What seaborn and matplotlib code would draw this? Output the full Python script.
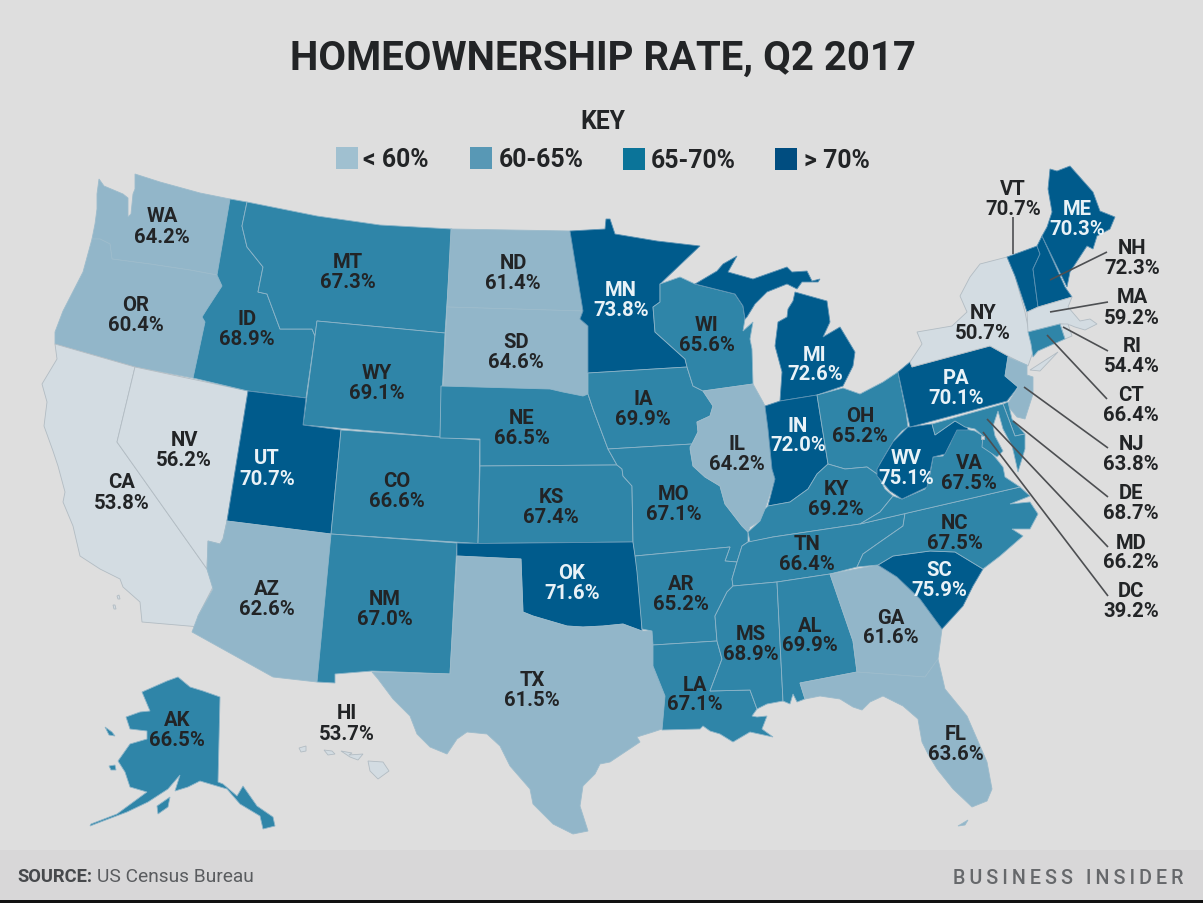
import numpy as np
import pandas as pd
import matplotlib
matplotlib.use("Agg")
import matplotlib.pyplot as plt
from matplotlib.patches import Polygon
import seaborn as sns

STATES = ["WA", "OR", "CA", "NV", "ID", "MT", "WY", "UT", "AZ", "CO", "NM", "ND", "SD", "NE", "KS", "OK",
          "TX", "MN", "IA", "MO", "AR", "LA", "WI", "IL", "MI", "IN", "OH", "KY", "TN", "MS", "AL", "GA",
          "FL", "SC", "NC", "VA", "WV", "PA", "NY", "VT", "NH", "ME", "MA", "RI", "CT", "NJ", "DE", "MD",
          "DC", "AK", "HI"]
RATES = [64.2, 60.4, 53.8, 56.2, 68.9, 67.3, 69.1, 70.7, 62.6, 66.6, 67.0, 61.4, 64.6, 66.5, 67.4, 71.6,
         61.5, 73.8, 69.9, 67.1, 65.2, 67.1, 65.6, 64.2, 72.6, 72.0, 65.2, 69.2, 66.4, 68.9, 69.9, 61.6,
         63.6, 75.9, 67.5, 67.5, 75.1, 70.1, 50.7, 70.7, 72.3, 70.3, 59.2, 54.4, 66.4, 63.8, 68.7, 66.2,
         39.2, 66.5, 53.7]
KEY_LABELS = ["< 60%", "60-65%", "65-70%", "> 70%"]
KEY_BINS = [0, 60, 65, 70, 100]

MAP_COLORS = ["#d3dce2", "#92b6c9", "#2f85a8", "#005b8c"]
EDGE_COLORS = ["#b2bcc3", "#9dbccc", "#8db5c9", "#5d93b4"]
KEY_COLORS = ["#a0c0d0", "#5898b5", "#0b7499", "#004d80"]
BG = "#dedede"
DARK = "#222426"

# outlines, in image pixels
SHAPES = {
    "WA": [[(99,180),(104,187),(123,195),(128,199),(128,218),(131,215),(133,195),(135,190),(135,175),(160,183),(200,194),(230,200),(217,276),(190,271),(150,265),(112,260),(110,245),(100,240),(92,240),(95,225),(97,210),(97,195)]],
    "OR": [[(92,240),(100,240),(110,245),(112,260),(150,265),(190,271),(217,276),(222,287),(207,310),(202,318),(205,323),(193,379),(135,368),(55,345),(55,333),(63,312),(83,273)]],
    "CA": [[(55,345),(135,368),(117,443),(207,570),(213,588),(198,617),(200,628),(142,623),(140,603),(123,588),(120,580),(100,570),(80,557),(73,527),(63,503),(65,493),(58,467),(53,452),(44,427),(47,403),(42,385),(57,360)],
           [(117,597),(119,596),(120,600),(118,600)],
           [(113,606),(115,606),(116,610),(114,610)]],
    "NV": [[(135,368),(248,392),(227,522),(223,540),(220,545),(208,542),(207,570),(117,443)]],
    "ID": [[(230,200),(247,203),(242,227),(247,248),(263,268),(258,293),(267,295),(280,330),(303,330),(312,330),(315,337),(306,399),(248,392),(193,379),(205,323),(202,318),(207,310),(222,287),(217,276)]],
    "MT": [[(247,203),(317,217),(380,226),(452,230),(445,334),(317,322),(315,337),(312,330),(280,330),(267,295),(258,293),(263,268),(247,248),(242,227)]],
    "WY": [[(317,322),(445,334),(440,438),(303,426)]],
    "UT": [[(248,392),(306,399),(303,426),(341,431),(331,535),(227,522)]],
    "AZ": [[(227,522),(331,535),(317,683),(273,678),(192,633),(198,617),(213,590),(207,570),(208,542),(220,545),(223,540)]],
    "CO": [[(341,431),(480,441),(478,544.5),(331,535)]],
    "NM": [[(331,535),(457,544),(450,675),(372,672),(335,675),(335,684),(317,683)]],
    "ND": [[(451,230),(570,232),(583,312),(447,308)]],
    "SD": [[(447,308),(583,312),(580,320),(588,327),(588,395),(583,397),(563,393),(550,390),(443,387)]],
    "NE": [[(441,387),(550,390),(563,393),(583,397),(588,395),(593,410),(608,450),(617,466),(480,467),(480,440),(440,439)]],
    "KS": [[(480,467),(617,466),(622,470),(623,477),(632,487),(633,543),(478,544.5)]],
    "OK": [[(457,544),(478,544.5),(633,543),(640,583),(642,632),(623,625),(603,627),(583,628),(567,627),(550,622),(533,617),(523,613),(521,560),(457,557)]],
    "TX": [[(457,557),(521,560),(523,613),(533,617),(550,622),(567,627),(583,628),(603,627),(623,625),(642,632),(652,632),(653,646),(657,673),(665,697),(662,730),(653,733),(637,738),(640,743),(610,763),(600,765),(595,775),(583,787),(580,807),(588,832),(573,835),(553,825),(533,805),(530,790),(510,767),(500,747),(487,735),(467,733),(457,740),(447,755),(430,748),(417,735),(410,717),(393,700),(378,680),(372,673),(450,675)]],
    "MN": [[(570,232),(605,230),(606,220),(610,220),(615,235),(633,238),(657,242),(700,247),(660,285),(660,303),(653,308),(655,333),(685,360),(687,368),(588,374),(588,327),(580,320),(583,312)]],
    "IA": [[(588,374),(687,368),(693,387),(703,392),(713,407),(710,417),(697,423),(698,433),(692,445),(608,450),(593,410),(588,395)]],
    "MO": [[(608,450),(692,445),(690,450),(693,467),(705,478),(720,487),(725,505),(742,527),(748,533),(748,543),(742,547),(737,563),(725,562),(730,548),(635,557),(633,543),(632,487),(623,477),(622,470),(617,466)]],
    "AR": [[(635,557),(730,548),(725,562),(737,563),(732,580),(733,587),(727,593),(715,617),(717,642),(653,646),(652,632),(642,630),(637,573)]],
    "LA": [[(653,646),(717,642),(722,660),(710,692),(750,691),(757,710),(752,717),(757,718),(767,717),(762,730),(773,738),(750,733),(733,743),(720,735),(710,732),(703,727),(700,730),(662,731),(665,697),(653,667)]],
    "WI": [[(660,285),(680,278),(695,285),(735,295),(743,307),(745,320),(743,332),(753,323),(750,340),(752,350),(753,385),(703,392),(693,387),(687,368),(685,360),(655,333),(653,308),(660,303)]],
    "IL": [[(703,392),(753,385),(763,403),(765,407),(768,430),(772,470),(775,480),(770,495),(765,510),(760,522),(750,528),(748,533),(742,527),(725,505),(720,487),(705,478),(693,467),(690,448),(692,445),(698,433),(697,423),(710,417),(713,407)]],
    "MI": [[(795,293),(827,302),(830,323),(823,338),(840,328),(855,353),(853,367),(843,387),(817,396),(780,402),(782,373),(775,347),(778,323),(787,318),(788,310),(793,302)],
           [(695,285),(717,272),(723,265),(737,257),(728,273),(753,280),(787,268),(792,273),(807,272),(812,282),(820,280),(818,283),(802,283),(797,290),(787,285),(767,293),(755,305),(747,318),(745,320),(743,307),(735,295)]],
    "IN": [[(780,402),(817,396),(828,465),(817,475),(808,490),(790,503),(768,507),(775,480),(772,470),(768,430),(765,407)]],
    "OH": [[(817,396),(843,389),(860,395),(883,383),(898,373),(906,413),(908,428),(902,432),(895,440),(887,453),(880,465),(877,475),(867,468),(845,470),(828,465)]],
    "KY": [[(828,465),(845,470),(867,468),(877,475),(885,490),(893,497),(880,513),(860,525),(773,538),(750,543),(748,533),(760,522),(765,510),(768,507),(790,503),(808,490),(817,475)]],
    "TN": [[(748,543),(773,538),(860,525),(905,514.5),(903,527),(880,543),(863,555),(857,568),(830,575),(777,583),(733,587),(732,580),(737,563),(742,547)]],
    "MS": [[(733,587),(777,583),(783,702),(767,705),(757,710),(750,691),(710,692),(722,660),(717,642),(715,617),(727,593)]],
    "AL": [[(777,583),(830,575),(853,642),(857,673),(800,684),(805,700),(797,703),(793,695),(790,705),(783,702)]],
    "GA": [[(830,575),(878,566),(897,578),(920,600),(942,630),(938,660),(925,678),(857,673),(853,642)]],
    "FL": [[(800,684),(857,673),(925,678),(938,660),(945,690),(967,717),(987,763),(992,790),(987,802),(972,808),(953,790),(937,770),(928,755),(922,743),(918,720),(903,707),(883,697),(870,703),(862,711),(853,708),(840,700),(820,697),(805,700)],
           [(958,827),(968,821),(965,826)]],
    "SC": [[(878,566),(893,557),(930,552),(955,553),(983,570),(973,587),(963,607),(942,630),(920,600),(897,578)]],
    "NC": [[(905,514.5),(1020,488),(1030,497),(1010,505),(1030,503),(1038,515),(1030,530),(1012,530),(1023,537),(1000,557),(983,570),(955,553),(930,552),(893,557),(878,566),(857,568),(863,555),(880,543),(903,527)]],
    "VA": [[(860,525),(880,513),(893,497),(902,500),(925,490),(930,475),(933,458),(943,457),(950,445),(955,430),(965,430),(975,432),(983,437),(985,447),(995,458),(1003,468),(1005,478),(1020,488)]],
    "WV": [[(910,428),(932,425),(935,436),(955,422),(967,427),(968,431),(957,431),(945,455),(933,458),(927,488),(902,500),(890,492),(877,477),(877,470),(887,453),(893,443),(908,428)]],
    "PA": [[(898,373),(910,363),(912,368),(990,347),(1008,357),(1005,377),(1018,388),(1007,402),(910,428)]],
    "NY": [[(1007,258),(980,265),(970,278),(960,297),(967,313),(952,327),(917,333),(922,345),(910,363),(912,368),(990,347),(1008,357),(1028,367),(1033,353),(1025,313),(1015,277)],
           [(1030,371),(1058,353),(1040,372)]],
    "VT": [[(1007,258),(1037,247),(1040,255),(1033,270),(1038,308),(1027,313),(1015,277)]],
    "NH": [[(1037,247),(1042,237),(1065,288),(1072,298),(1038,308),(1033,270),(1040,255)]],
    "ME": [[(1050,170),(1057,172),(1070,167),(1093,193),(1100,212),(1115,218),(1110,230),(1097,237),(1093,250),(1087,247),(1070,273),(1067,288),(1042,237),(1047,228),(1052,213),(1048,190)]],
    "MA": [[(1027,313),(1038,308),(1072,298),(1068,308),(1080,322),(1090,320),(1097,325),(1085,331),(1075,328),(1070,326),(1060,325),(1028,333)]],
    "RI": [[(1060,325),(1068,325),(1072,337),(1065,340)]],
    "CT": [[(1028,333),(1060,325),(1065,340),(1038,352),(1033,358),(1031,345)]],
    "NJ": [[(1008,358),(1027,366),(1027,376),(1033,378),(1033,395),(1025,420),(1017,418),(1007,406),(1018,388),(1005,377)]],
    "DE": [[(1003,405),(1008,403),(1012,420),(1025,435),(1015,437)]],
    "MD": [[(932,425),(1003,405),(1015,437),(1025,435),(1025,450),(1018,473),(1014,455),(1012,447),(1003,430),(998,412),(993,427),(995,437),(1003,452),(997,458),(982,448),(983,437),(975,430),(965,428),(955,422),(935,436)]],
    "DC": [[(981,437),(984,437),(984,440),(981,440)]],
    "AK": [[(178,678),(190,688),(203,692),(220,698),(218,783),(223,785),(237,797),(243,787),(257,807),(273,818),(275,827),(263,830),(260,817),(240,805),(227,790),(200,782),(188,788),(175,792),(180,776),(168,790),(148,803),(127,813),(103,822),(90,827),(91,825),(117,815),(147,793),(130,788),(125,773),(118,762),(130,745),(147,740),(147,732),(130,730),(126,718),(140,713),(150,712),(142,693),(167,682)],
           [(157,807),(170,798),(168,808),(158,815)],
           [(105,728),(112,733),(115,737),(109,736)],
           [(109,767),(115,766),(116,771),(111,771)]],
    "HI": [[(368,762),(383,763),(389,772),(378,780),(370,772)],
           [(341,752),(352,754),(349,756),(363,755),(358,761),(350,758)],
           [(324,751),(332,752),(335,755),(328,756)],
           [(299,749),(306,747),(306,752),(301,753)]],
}

# name line and value line centres for every state label
LABEL_POS = {
    "WA": (162,215,236), "OR": (136,304,324), "CA": (122,481,502), "NV": (184,439,459), "ID": (247,318,338),
    "MT": (348,261,281), "WY": (377,372,392), "UT": (267,457,478), "AZ": (267,588,608), "CO": (397,480,500),
    "NM": (385,598,618), "ND": (513,262,282), "SD": (516,341,361), "NE": (522,417,437), "KS": (551,496,516),
    "OK": (572,572,592), "TX": (532,679,699), "MN": (621,289,309), "IA": (643,398,418), "MO": (674,493,513),
    "AR": (681,583,603), "LA": (695,684,703), "WI": (707,324,344), "IL": (737,443,463), "MI": (815,354,373),
    "IN": (798,425,444), "OH": (860,415,435), "KY": (836,488,508), "TN": (807,543,563), "MS": (751,633,653),
    "AL": (810,625,644), "GA": (891,617,636), "FL": (956,733,753), "SC": (939,569,589), "NC": (955,522,542),
    "VA": (969,462,482), "WV": (906,457,477), "PA": (956,377,397), "NY": (983,312,332), "VT": (1013,188,208),
    "NH": (1132,247,267), "ME": (1077,208,228), "MA": (1132,296,317), "RI": (1132,345,365), "CT": (1131,394,414),
    "NJ": (1131,443,463), "DE": (1131,492,512), "MD": (1131,542,561), "DC": (1131,590,610), "AK": (177,719,739),
    "HI": (347,712,733),
}

LEADERS = {
    "VT": ((1013,218),(1013,255)), "NH": ((1107,253),(1050,281)), "MA": ((1108,303),(1050,313)),
    "RI": ((1108,352),(1063,328)), "CT": ((1107,400),(1047,336)), "NJ": ((1108,449),(1024,388)),
    "DE": ((1108,498),(1013,422)), "MD": ((1108,548),(987,420)), "DC": ((1108,597),(983,433)),
}

sns.set_theme(style="white")
plt.rcParams["font.family"] = ["Roboto", "DejaVu Sans"]

df = pd.DataFrame({"state": STATES, "rate": RATES})
df["bin"] = pd.cut(df["rate"], bins=KEY_BINS, labels=False)
map_pal = sns.color_palette(MAP_COLORS)
edge_pal = sns.color_palette(EDGE_COLORS)

fig = plt.figure(figsize=(12.03, 9.04), dpi=100, facecolor=BG)
ax = fig.add_axes([0, 0, 1, 1], facecolor=BG)

# footer band
ax.axhspan(851, 901, color="#d8d7d8", lw=0, zorder=0)
ax.axhspan(901, 904, color="#111111", lw=0, zorder=0)

for row in df.itertuples():
    for pts in SHAPES[row.state]:
        ax.add_patch(Polygon(pts, closed=True, facecolor=map_pal[row.bin],
                             edgecolor=edge_pal[row.bin], linewidth=0.6, zorder=2))

for st, (a, b) in LEADERS.items():
    ax.plot([a[0], b[0]], [a[1], b[1]], color="#4d4f52", lw=1.2, zorder=3, solid_capstyle="butt")

for row in df.itertuples():
    x, y1, y2 = LABEL_POS[row.state]
    # states with a leader have their label outside the shape
    col = "#e9f2f7" if row.bin == 3 and row.state not in LEADERS else DARK
    ax.text(x, y1 + 1.5, row.state, color=col, fontsize=14.6, fontweight="bold", ha="center", va="center", zorder=4)
    ax.text(x, y2 + 1.5, f"{row.rate:.1f}%", color=col, fontsize=14.6, fontweight="bold", ha="center", va="center", zorder=4)

# title and key
ax.text(603, 70, "HOMEOWNERSHIP RATE, Q2 2017", fontsize=28.9, fontweight="bold", color=DARK,
        ha="center", va="baseline")
ax.text(603, 129, "KEY", fontsize=17.8, fontweight="bold", color=DARK, ha="center", va="baseline")

key_x = [347, 481, 634, 786]
key_y = [159, 159, 160, 160]
text_x = [363, 499, 651, 804]
sns.scatterplot(x=key_x, y=key_y, hue=KEY_LABELS, palette=KEY_COLORS, marker="s", s=250,
                linewidth=0, legend=False, ax=ax, zorder=3)
for tx, ty, lab in zip(text_x, key_y, KEY_LABELS):
    ax.text(tx, ty + 8, lab, fontsize=17.9, fontweight="bold", color=DARK, ha="left", va="baseline")

# footer text
ax.text(17, 882, "SOURCE:", fontsize=13.2, fontweight="bold", color="#47494c", ha="left", va="baseline")
ax.text(97, 882, "US Census Bureau", fontsize=13.8, color="#5a5c5f", ha="left", va="baseline")
ax.text(1183, 884, "\u2009".join("BUSINESS INSIDER"), fontsize=14.2, fontweight="medium", color="#66686b",
        ha="right", va="baseline")

ax.set_xlim(0, 1203)
ax.set_ylim(904, 0)
ax.axis("off")
fig.savefig("out.png", dpi=100, facecolor=BG)
